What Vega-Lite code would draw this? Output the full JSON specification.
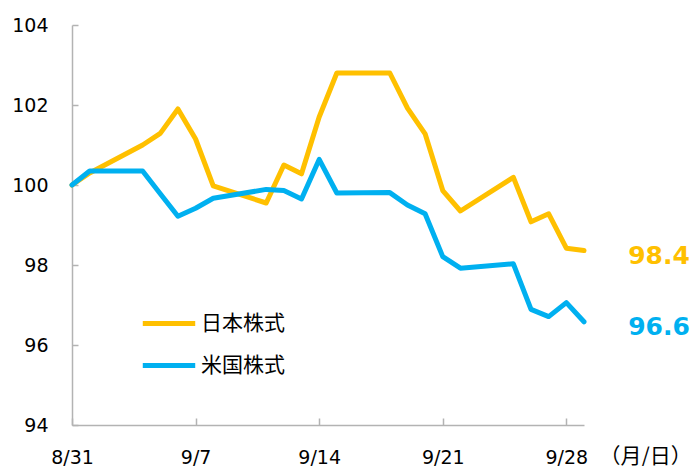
{
  "$schema": "https://vega.github.io/schema/vega-lite/v6.json",
  "width": 512,
  "height": 400,
  "autosize": {"type": "none"},
  "padding": {"left": 72, "top": 25, "right": 108, "bottom": 41},
  "background": "white",
  "config": {
    "view": {"stroke": null},
    "font": "DejaVu Sans",
    "axis": {"grid": false, "domainColor": "#b3b3b3", "tickColor": "#b3b3b3", "domainWidth": 1.5, "tickWidth": 1.5, "labelFont": "DejaVu Sans", "labelFontSize": 19, "labelColor": "#000000"}
  },
  "data": {
    "values": [
      {"date": "2023-08-31", "series": "日本株式", "value": 100.0},
      {"date": "2023-09-01", "series": "日本株式", "value": 100.3},
      {"date": "2023-09-04", "series": "日本株式", "value": 101.0},
      {"date": "2023-09-05", "series": "日本株式", "value": 101.29},
      {"date": "2023-09-06", "series": "日本株式", "value": 101.9},
      {"date": "2023-09-07", "series": "日本株式", "value": 101.15},
      {"date": "2023-09-08", "series": "日本株式", "value": 99.98},
      {"date": "2023-09-11", "series": "日本株式", "value": 99.55},
      {"date": "2023-09-12", "series": "日本株式", "value": 100.5},
      {"date": "2023-09-13", "series": "日本株式", "value": 100.28},
      {"date": "2023-09-14", "series": "日本株式", "value": 101.7},
      {"date": "2023-09-15", "series": "日本株式", "value": 102.8},
      {"date": "2023-09-18", "series": "日本株式", "value": 102.8},
      {"date": "2023-09-19", "series": "日本株式", "value": 101.92},
      {"date": "2023-09-20", "series": "日本株式", "value": 101.28},
      {"date": "2023-09-21", "series": "日本株式", "value": 99.86},
      {"date": "2023-09-22", "series": "日本株式", "value": 99.35},
      {"date": "2023-09-25", "series": "日本株式", "value": 100.19},
      {"date": "2023-09-26", "series": "日本株式", "value": 99.08},
      {"date": "2023-09-27", "series": "日本株式", "value": 99.28},
      {"date": "2023-09-28", "series": "日本株式", "value": 98.42},
      {"date": "2023-09-29", "series": "日本株式", "value": 98.36},
      {"date": "2023-08-31", "series": "米国株式", "value": 100.0},
      {"date": "2023-09-01", "series": "米国株式", "value": 100.35},
      {"date": "2023-09-04", "series": "米国株式", "value": 100.35},
      {"date": "2023-09-05", "series": "米国株式", "value": 99.78},
      {"date": "2023-09-06", "series": "米国株式", "value": 99.22},
      {"date": "2023-09-07", "series": "米国株式", "value": 99.42},
      {"date": "2023-09-08", "series": "米国株式", "value": 99.67},
      {"date": "2023-09-11", "series": "米国株式", "value": 99.89},
      {"date": "2023-09-12", "series": "米国株式", "value": 99.86},
      {"date": "2023-09-13", "series": "米国株式", "value": 99.65},
      {"date": "2023-09-14", "series": "米国株式", "value": 100.64},
      {"date": "2023-09-15", "series": "米国株式", "value": 99.8},
      {"date": "2023-09-18", "series": "米国株式", "value": 99.81},
      {"date": "2023-09-19", "series": "米国株式", "value": 99.5},
      {"date": "2023-09-20", "series": "米国株式", "value": 99.28},
      {"date": "2023-09-21", "series": "米国株式", "value": 98.21},
      {"date": "2023-09-22", "series": "米国株式", "value": 97.92},
      {"date": "2023-09-25", "series": "米国株式", "value": 98.03},
      {"date": "2023-09-26", "series": "米国株式", "value": 96.89},
      {"date": "2023-09-27", "series": "米国株式", "value": 96.71},
      {"date": "2023-09-28", "series": "米国株式", "value": 97.06},
      {"date": "2023-09-29", "series": "米国株式", "value": 96.58}
    ]
  },
  "encoding": {
    "x": {
      "field": "date", "type": "temporal", "timeUnit": "utcyearmonthdate",
      "scale": {"type": "utc", "domain": [{"year": 2023, "month": 8, "date": 31, "utc": true}, {"year": 2023, "month": 9, "date": 29, "utc": true}]},
      "axis": {
        "values": [
          {"year": 2023, "month": 8, "date": 31, "utc": true},
          {"year": 2023, "month": 9, "date": 7, "utc": true},
          {"year": 2023, "month": 9, "date": 14, "utc": true},
          {"year": 2023, "month": 9, "date": 21, "utc": true},
          {"year": 2023, "month": 9, "date": 28, "utc": true}
        ],
        "format": "%-m/%-d",
        "tickSize": -7, "labelPadding": 30, "labelFlush": false, "labelOverlap": false,
        "title": "（月/日）", "titleX": 527, "titleY": 31, "titleAlign": "left", "titleBaseline": "middle",
        "titleFont": "Noto Sans CJK JP", "titleFontSize": 21, "titleFontWeight": "normal", "titleColor": "#000000"
      }
    },
    "y": {
      "field": "value", "type": "quantitative",
      "scale": {"domain": [94, 104], "zero": false, "nice": false},
      "axis": {"values": [94, 96, 98, 100, 102, 104], "tickSize": -6, "labelPadding": 30, "title": null}
    },
    "color": {
      "field": "series", "type": "nominal",
      "scale": {"domain": ["日本株式", "米国株式"], "range": ["#FFC000", "#00B0F0"]}
    }
  },
  "layer": [
    {
      "mark": {"type": "line", "strokeWidth": 5, "strokeJoin": "round", "strokeCap": "round"},
      "encoding": {
        "color": {
          "field": "series", "type": "nominal",
          "legend": {
            "orient": "none", "legendX": 68, "legendY": 288, "title": null,
            "symbolType": "stroke", "symbolStrokeWidth": 5, "symbolSize": 2750,
            "labelFont": "Noto Sans CJK JP", "labelFontSize": 21, "labelColor": "#000000",
            "labelOffset": 3, "clipHeight": 21, "rowPadding": 20
          }
        }
      }
    },
    {
      "mark": {"type": "text", "align": "center", "baseline": "middle", "dx": 75, "dy": 5, "fontSize": 25, "fontWeight": "bold", "font": "DejaVu Sans"},
      "encoding": {
        "x": {"field": "date", "type": "temporal", "aggregate": "max"},
        "y": {"field": "value", "type": "quantitative", "aggregate": {"argmax": "date"}},
        "text": {"field": "value", "type": "quantitative", "aggregate": {"argmax": "date"}, "format": ".1f"},
        "color": {"field": "series", "type": "nominal", "legend": null}
      }
    }
  ]
}
